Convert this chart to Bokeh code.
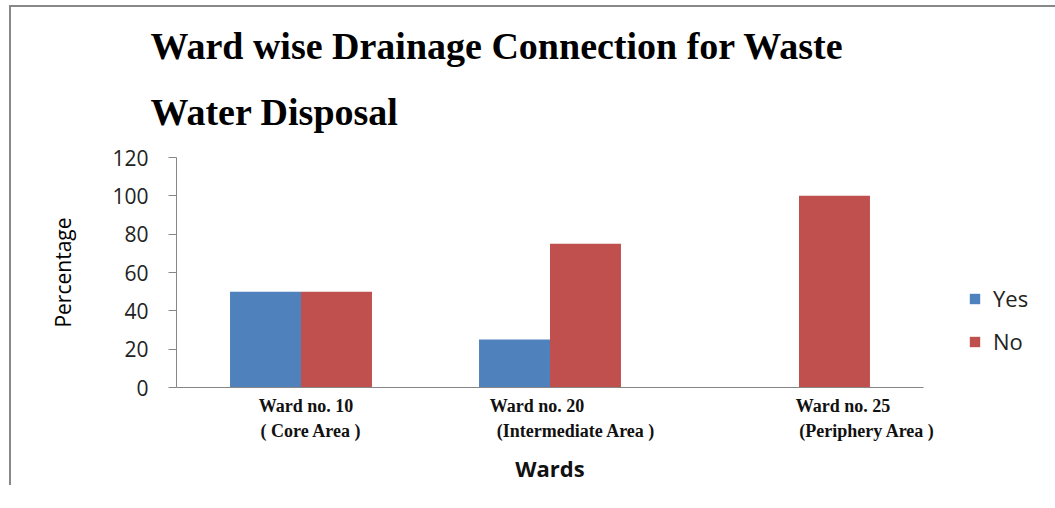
from bokeh.plotting import figure
from bokeh.models import (Range1d, Legend, LegendItem, ColumnDataSource, LinearAxis,
                          FixedTicker, InlineStyleSheet, Title)
from bokeh.embed import file_html
from bokeh.resources import INLINE

# ---- data ----
title_lines = ["Ward wise Drainage Connection for Waste", "Water Disposal"]
categories = ["Ward no. 10", "Ward no. 20", "Ward no. 25"]
sublabels = ["( Core Area )", "(Intermediate Area )", "(Periphery Area )"]
yes_values = [50, 25, 0]
no_values = [50, 75, 100]
y_ticks = [0, 20, 40, 60, 80, 100, 120]

BLUE = "#4F81BD"
RED = "#C0504D"
AXIS = "#868686"

FRAME_W = 747
FRAME_H = 230
n = len(categories)
bw = 0.285
centers = [i + 0.5 for i in range(n)]
src = ColumnDataSource(dict(
    cat=categories,
    x_yes=[c - bw / 2 for c in centers],
    x_no=[c + bw / 2 for c in centers],
    yes=yes_values, no=no_values,
))

p = figure(
    x_range=Range1d(0, n),
    y_range=Range1d(0, 120),
    frame_width=FRAME_W, frame_height=FRAME_H,
    min_border_left=165, min_border_right=10,
    min_border_top=150, min_border_bottom=10,
    output_backend="svg", toolbar_location=None,
    title=None,
)
p.margin = (5, 0, 0, 9)
p.stylesheets = [InlineStyleSheet(css=":host { border-top: 2px solid #888888; border-left: 2px solid #888888; }")]

# title: two lines, the later-added one sits further from the frame
for text, standoff in zip(reversed(title_lines), [49, -4]):
    t = Title(text=text, align="left", offset=-26, standoff=standoff,
              text_font="Liberation Serif", text_font_style="bold",
              text_font_size="38px", text_color="black")
    p.add_layout(t, "above")

r_yes = p.vbar(x="x_yes", top="yes", width=bw, source=src, color=BLUE, line_color=None)
r_no = p.vbar(x="x_no", top="no", width=bw, source=src, color=RED, line_color=None)

p.xgrid.grid_line_color = None
p.ygrid.grid_line_color = None
p.outline_line_color = None

# y axis
p.yaxis.ticker = FixedTicker(ticks=y_ticks)
p.yaxis.minor_tick_line_color = None
p.yaxis.major_tick_in = 0
p.yaxis.major_tick_out = 8
p.yaxis.major_tick_line_color = AXIS
p.yaxis.axis_line_color = AXIS
p.yaxis.major_label_text_font = "Open Sans"
p.yaxis.major_label_text_font_size = "21px"
p.yaxis.major_label_text_color = "#222222"
p.yaxis.major_label_standoff = 20
p.yaxis.axis_label = "Percentage"
p.yaxis.axis_label_text_font = "Open Sans"
p.yaxis.axis_label_text_font_size = "21px"
p.yaxis.axis_label_text_font_style = "normal"
p.yaxis.axis_label_text_color = "black"
p.yaxis.axis_label_standoff = 32

# x axis: two stacked label rows (name / area), each positioned like the original
line1_offsets_px = [5, -13, 44]
line2_offsets_px = [10, 26, 68]
t1 = [c + off / FRAME_W * n for c, off in zip(centers, line1_offsets_px)]
t2 = [c + off / FRAME_W * n for c, off in zip(centers, line2_offsets_px)]


def style_row(ax, ticks, texts, standoff):
    ax.ticker = FixedTicker(ticks=ticks)
    ax.major_label_overrides = {t: s for t, s in zip(ticks, texts)}
    ax.major_tick_line_color = None
    ax.major_tick_out = 0
    ax.major_tick_in = 0
    ax.minor_tick_line_color = None
    ax.major_label_text_font = "Liberation Serif"
    ax.major_label_text_font_style = "bold"
    ax.major_label_text_font_size = "18px"
    ax.major_label_text_color = "#111111"
    ax.major_label_standoff = standoff


xa = p.xaxis[0]
style_row(xa, t1, categories, 8)
xa.axis_line_color = AXIS

xb = LinearAxis()
style_row(xb, t2, sublabels, 2)
xb.axis_line_color = None
xb.axis_label = "Wards"
xb.axis_label_text_font = "Open Sans"
xb.axis_label_text_font_size = "22px"
xb.axis_label_text_font_style = "bold"
xb.axis_label_text_color = "#111111"
xb.axis_label_standoff = 9
p.add_layout(xb, "below")

legend = Legend(items=[LegendItem(label="Yes", renderers=[r_yes]),
                       LegendItem(label="No", renderers=[r_no])],
                location=(45, 31))
legend.glyph_width = 13
legend.glyph_height = 13
legend.label_standoff = 12
legend.spacing = 13
legend.padding = 0
legend.margin = 0
legend.border_line_color = None
legend.background_fill_alpha = 0
legend.label_text_font = "Open Sans"
legend.label_text_font_size = "22px"
legend.label_text_color = "#222222"
p.add_layout(legend, "right")

open("out.html", "w").write(file_html(p, INLINE))
